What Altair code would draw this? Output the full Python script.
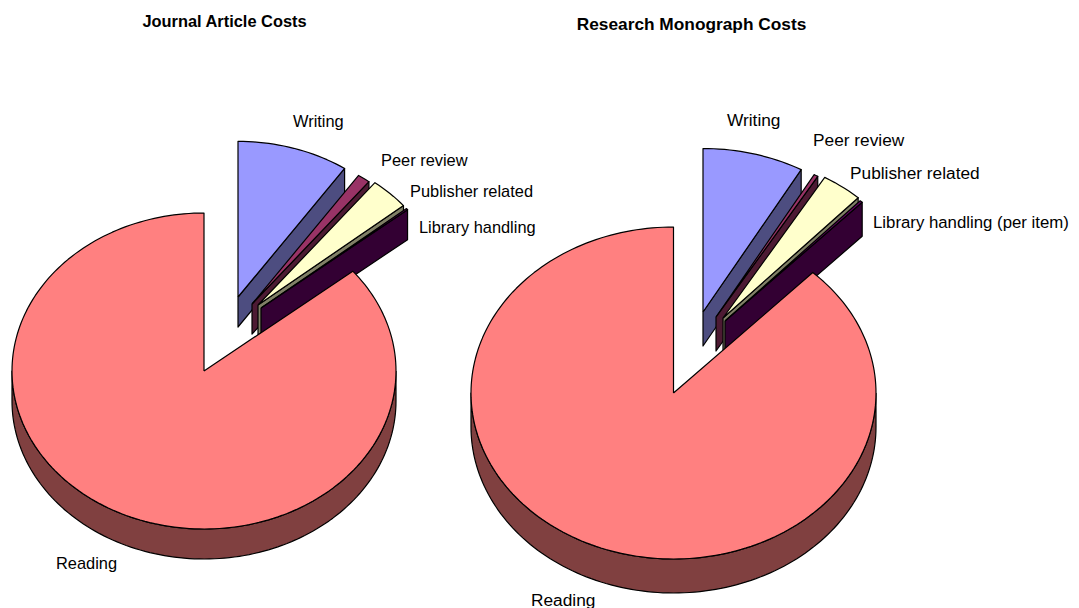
import math
import altair as alt
import pandas as pd

# ---- values (share of total cost, %) ----
categories = ["Writing", "Peer review", "Publisher related", "Library handling", "Reading"]
journal_shares = [9.53, 1.08, 3.36, 0.14, 85.89]
monograph_shares = [8.19, 0.33, 3.33, 0.22, 87.93]
journal_labels = ["Writing", "Peer review", "Publisher related", "Library handling", "Reading"]
monograph_labels = ["Writing", "Peer review", "Publisher related", "Library handling (per item)", "Reading"]
titles = ["Journal Article Costs", "Research Monograph Costs"]

top_colors = ["#9999FF", "#993366", "#FFFFCC", "#660066", "#FF8080"]
side_colors = ["#4D4D80", "#4D1A33", "#808066", "#330033", "#804040"]

# ---- layout ----
W, H = 1063, 592
journal_layout = dict(rx=192, ry=158, depth=30, font=16.4,
                      apex=[(238, 297), (252, 304), (258, 305), (261, 308), (204, 371)],
                      label_xy=[(293, 122), (381, 161), (410, 192), (419, 228), (56, 564)],
                      label_size=[16.4] * 5)
monograph_layout = dict(rx=202.5, ry=166, depth=34, font=17.3,
                        apex=[(703, 312), (716, 317), (723, 318), (725, 321), (673.5, 393)],
                        label_xy=[(727, 121), (813, 141), (850, 174), (873, 223), (531, 601)],
                        label_size=[17.3, 17.3, 17.3, 16.8, 17.3])
title_xy = [(224.5, 22), (691.5, 25)]
title_sizes = [16.4, 17.3]
exploded_radius = 0.985

x_scale = alt.Scale(domain=[8, 8 + W], nice=False, zero=False)
y_scale = alt.Scale(domain=[8 + H, 8], nice=False, zero=False)


def poly_layer(points, fill):
    closed = list(points) + [points[0]]
    df = pd.DataFrame({"px": [p[0] for p in closed],
                       "py": [p[1] for p in closed],
                       "i": list(range(len(closed)))})
    return alt.Chart(df).mark_line(
        fill=fill, stroke="black", strokeWidth=1.2, strokeJoin="round", clip=False
    ).encode(
        x=alt.X("px:Q", scale=x_scale, axis=None),
        y=alt.Y("py:Q", scale=y_scale, axis=None),
        order="i:Q",
    )


def pie_layers(shares, lay):
    d = lay["depth"]
    out = []
    start = 0.0
    for k, share in enumerate(shares):
        f = exploded_radius if k < 4 else 1.0
        rx, ry = lay["rx"] * f, lay["ry"] * f
        end = start + share * 3.6
        ax, ay = lay["apex"][k]
        n = max(3, int((end - start) / 1.5))
        ts = [math.radians(start + (end - start) * j / n) for j in range(n + 1)]
        rim = [(ax + rx * math.sin(t), ay - ry * math.cos(t)) for t in ts]
        if k < 4:
            # exposed radial wall below the clockwise edge of the wedge
            ex, ey = rim[-1]
            out.append(poly_layer([(ax, ay), (ex, ey), (ex, ey + d), (ax, ay + d)], side_colors[k]))
        else:
            # exposed outer wall along the front half of the rim
            lower = [p for p, t in zip(rim, ts) if math.pi / 2 <= t <= 3 * math.pi / 2]
            lower = [(ax + rx, ay)] + lower + [(ax - rx, ay)]
            out.append(poly_layer(lower + [(x, y + d) for x, y in reversed(lower)], side_colors[k]))
        out.append(poly_layer([(ax, ay)] + rim, top_colors[k]))
        start = end
    return out


layers = pie_layers(journal_shares, journal_layout) + pie_layers(monograph_shares, monograph_layout)


def text_layer(label, xy, **kw):
    return alt.Chart(pd.DataFrame({"label": [label], "px": [xy[0]], "py": [xy[1]]})).mark_text(
        font="Liberation Sans", color="black", baseline="middle", **kw
    ).encode(
        x=alt.X("px:Q", scale=x_scale, axis=None),
        y=alt.Y("py:Q", scale=y_scale, axis=None),
        text="label:N",
    )


label_layers = [
    text_layer(t, xy, align="left", fontSize=s)
    for names, lay in ((journal_labels, journal_layout), (monograph_labels, monograph_layout))
    for t, xy, s in zip(names, lay["label_xy"], lay["label_size"])
]
title_layers = [
    text_layer(t, xy, align="center", fontSize=s, fontWeight="bold")
    for t, xy, s in zip(titles, title_xy, title_sizes)
]

chart = alt.layer(*layers, *label_layers, *title_layers).properties(
    width=W, height=H, padding=0, background="white"
).configure_view(stroke=None)

chart.save("out.html", embed_options={"renderer": "svg", "actions": False})
